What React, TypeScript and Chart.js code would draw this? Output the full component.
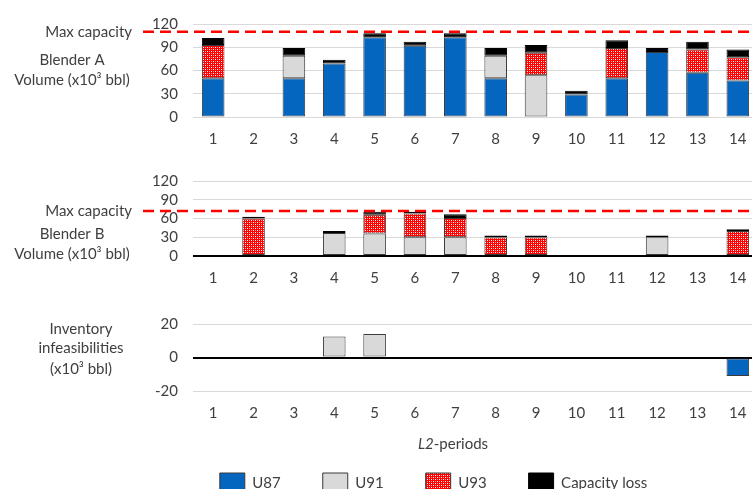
import React, { useEffect, useRef } from "react";
import { Chart, registerables } from "chart.js";

Chart.register(...registerables);

// ---------- data ----------
const periods = ["1", "2", "3", "4", "5", "6", "7", "8", "9", "10", "11", "12", "13", "14"];
const seriesNames = ["U87", "U91", "U93", "Capacity loss"];

const capacityA = 110;
const capacityB = 72;

const blenderA_U87 = [50, null, 50, 69, 103, 92, 103, 50, null, 29, 50, 84, 57, 47];
const blenderA_U91 = [null, null, 29, null, null, null, null, 29, 54, null, null, null, null, null];
const blenderA_U93 = [43, null, null, null, null, null, null, null, 29, null, 39, null, 30, 30];
const blenderA_loss = [9, null, 10, 5, 5, 5, 5, 10, 10, 5, 10, 5, 10, 10];

const blenderB_U87 = [null, null, null, null, null, null, null, null, null, null, null, null, null, null];
const blenderB_U91 = [null, null, null, 37, 36, 30, 30, null, null, null, null, 30, null, null];
const blenderB_U93 = [null, 60, null, null, 30, 38, 31, 30, 30, null, null, null, null, 40];
const blenderB_loss = [null, 3, null, 3, 5, 3, 6, 3, 3, null, null, 3, null, 3];

const inv_U87 = [null, null, null, null, null, null, null, null, null, null, null, null, null, -11];
const inv_U91 = [null, null, null, 12.5, 14, null, null, null, null, null, null, null, null, null];
const inv_U93 = [null, null, null, null, null, null, null, null, null, null, null, null, null, null];
const inv_loss = [null, null, null, null, null, null, null, null, null, null, null, null, null, null];

const volumeTicks = { min: 0, max: 120, step: 30 };
const invTicks = { min: -20, max: 20, step: 20 };

// ---------- styling ----------
const FONT = "Lato";
const TEXT = "#404040";
const BLUE = "#0566C0";
const GRAY = "#D9D9D9";
const BLACK = "#000000";
const OUTLINE = "#3A3A3A";
const CANVAS_W = 760;

function makePattern(): CanvasPattern | string {
  const c = document.createElement("canvas");
  c.width = 4;
  c.height = 4;
  const g = c.getContext("2d");
  if (!g) return "#FF0000";
  g.fillStyle = "#FF0000";
  g.fillRect(0, 0, 4, 4);
  g.fillStyle = "#FFFFFF";
  g.fillRect(1, 1, 1, 1);
  g.fillRect(3, 3, 1, 1);
  g.fillStyle = "#FF9999";
  g.fillRect(3, 1, 1, 1);
  g.fillRect(1, 3, 1, 1);
  const p = g.createPattern(c, "repeat");
  return p || "#FF0000";
}

function makeDatasets(u87: any[], u91: any[], u93: any[], loss: any[], pattern: any) {
  const common = { borderWidth: 1, borderSkipped: false, barPercentage: 0.56, categoryPercentage: 1 };
  return [
    { label: seriesNames[0], data: u87, backgroundColor: BLUE, borderColor: OUTLINE, ...common },
    { label: seriesNames[1], data: u91, backgroundColor: GRAY, borderColor: OUTLINE, ...common },
    { label: seriesNames[2], data: u93, backgroundColor: pattern, borderColor: OUTLINE, ...common },
    { label: seriesNames[3], data: loss, backgroundColor: BLACK, borderColor: BLACK, ...common },
  ];
}

type Line = { text: string; x: number; y: number };
type OverlayCfg = { capacity?: number; lines: Line[]; axisTitle?: { x: number; y: number } };

function overlayPlugin(cfg: OverlayCfg) {
  return {
    id: "overlay",
    afterDatasetsDraw(chart: any) {
      if (cfg.capacity == null) return;
      const ctx = chart.ctx;
      const y = chart.scales.y.getPixelForValue(cfg.capacity);
      ctx.save();
      ctx.strokeStyle = "#FF0000";
      ctx.lineWidth = 2.5;
      ctx.setLineDash([11, 6]);
      ctx.beginPath();
      ctx.moveTo(143, y);
      ctx.lineTo(chart.chartArea.right, y);
      ctx.stroke();
      ctx.setLineDash([]);
      ctx.font = `15px ${FONT}`;
      ctx.fillStyle = TEXT;
      ctx.textAlign = "right";
      ctx.textBaseline = "middle";
      ctx.fillText("Max capacity", 132, y);
      ctx.restore();
    },
    afterDraw(chart: any) {
      const ctx = chart.ctx;
      ctx.save();
      ctx.font = `15px ${FONT}`;
      ctx.fillStyle = TEXT;
      ctx.textAlign = "center";
      ctx.textBaseline = "middle";
      for (const l of cfg.lines) ctx.fillText(l.text, l.x, l.y);
      if (cfg.axisTitle) {
        const a = "L2";
        const b = "-periods";
        ctx.font = `italic 15px ${FONT}`;
        const wa = ctx.measureText(a).width;
        ctx.font = `15px ${FONT}`;
        const wb = ctx.measureText(b).width;
        const x0 = cfg.axisTitle.x - (wa + wb) / 2;
        ctx.textAlign = "left";
        ctx.font = `italic 15px ${FONT}`;
        ctx.fillText(a, x0, cfg.axisTitle.y);
        ctx.font = `15px ${FONT}`;
        ctx.fillText(b, x0 + wa, cfg.axisTitle.y);
      }
      ctx.restore();
    },
  };
}

function makeOptions(t: { min: number; max: number; step: number }, zeroDark: boolean, xHeight: number, legend: boolean) {
  const tickFont = { family: FONT, size: 15 };
  return {
    responsive: false,
    animation: false,
    devicePixelRatio: 1,
    layout: { padding: { left: 109, right: 2, top: 15, bottom: 0 } },
    plugins: {
      tooltip: { enabled: false },
      legend: legend
        ? {
            display: true,
            position: "bottom",
            align: "center",
            labels: { boxWidth: 25, boxHeight: 20, padding: 42, color: TEXT, font: tickFont },
          }
        : { display: false },
    },
    scales: {
      x: {
        stacked: true,
        grid: { display: false, drawTicks: false },
        border: { display: false },
        ticks: { color: TEXT, font: tickFont, padding: 13, maxRotation: 0, autoSkip: false },
        afterFit: (s: any) => {
          s.height = xHeight;
        },
      },
      y: {
        stacked: true,
        min: t.min,
        max: t.max,
        ticks: { stepSize: t.step, color: TEXT, font: tickFont, padding: 15, autoSkip: false },
        grid: {
          drawTicks: false,
          color: (c: any) => (zeroDark && c.tick && c.tick.value === 0 ? "#000000" : "#D9D9D9"),
          lineWidth: (c: any) => (zeroDark && c.tick && c.tick.value === 0 ? 2 : 1),
        },
        border: { display: false },
        afterFit: (s: any) => {
          s.width = 84;
        },
      },
    },
  };
}

export default function App() {
  const refA = useRef<HTMLCanvasElement>(null);
  const refB = useRef<HTMLCanvasElement>(null);
  const refC = useRef<HTMLCanvasElement>(null);

  useEffect(() => {
    const pattern = makePattern();
    const charts: Chart[] = [];

    if (refA.current) {
      charts.push(
        new Chart(refA.current, {
          type: "bar",
          data: { labels: periods, datasets: makeDatasets(blenderA_U87, blenderA_U91, blenderA_U93, blenderA_loss, pattern) as any },
          options: makeOptions(volumeTicks, false, 35, false) as any,
          plugins: [
            overlayPlugin({
              capacity: capacityA,
              lines: [
                { text: "Blender A", x: 72, y: 60 },
                { text: "Volume (x10³ bbl)", x: 72, y: 80 },
              ],
            }) as any,
          ],
        })
      );
    }
    if (refB.current) {
      charts.push(
        new Chart(refB.current, {
          type: "bar",
          data: { labels: periods, datasets: makeDatasets(blenderB_U87, blenderB_U91, blenderB_U93, blenderB_loss, pattern) as any },
          options: makeOptions(volumeTicks, true, 35, false) as any,
          plugins: [
            overlayPlugin({
              capacity: capacityB,
              lines: [
                { text: "Blender B", x: 72, y: 77 },
                { text: "Volume (x10³ bbl)", x: 72, y: 97 },
              ],
            }) as any,
          ],
        })
      );
    }
    if (refC.current) {
      charts.push(
        new Chart(refC.current, {
          type: "bar",
          data: { labels: periods, datasets: makeDatasets(inv_U87, inv_U91, inv_U93, inv_loss, pattern) as any },
          options: makeOptions(invTicks, true, 40, true) as any,
          plugins: [
            overlayPlugin({
              lines: [
                { text: "Inventory", x: 81, y: 29 },
                { text: "infeasibilities", x: 81, y: 48.5 },
                { text: "(x10³ bbl)", x: 81, y: 69 },
              ],
              axisTitle: { x: 453, y: 144 },
            }) as any,
          ],
        })
      );
    }
    return () => charts.forEach((c) => c.destroy());
  }, []);

  const cv = (top: number, h: number): React.CSSProperties => ({
    position: "absolute",
    left: 0,
    top,
    width: CANVAS_W,
    height: h,
    display: "block",
  });

  return (
    <div style={{ position: "fixed", left: 0, top: 0, width: 752, height: 489, overflow: "hidden", background: "#fff" }}>
      <canvas ref={refA} width={CANVAS_W} height={152} style={cv(0, 152)} />
      <canvas ref={refB} width={CANVAS_W} height={134} style={cv(157, 134)} />
      <canvas ref={refC} width={CANVAS_W} height={203} style={cv(300, 203)} />
    </div>
  );
}
